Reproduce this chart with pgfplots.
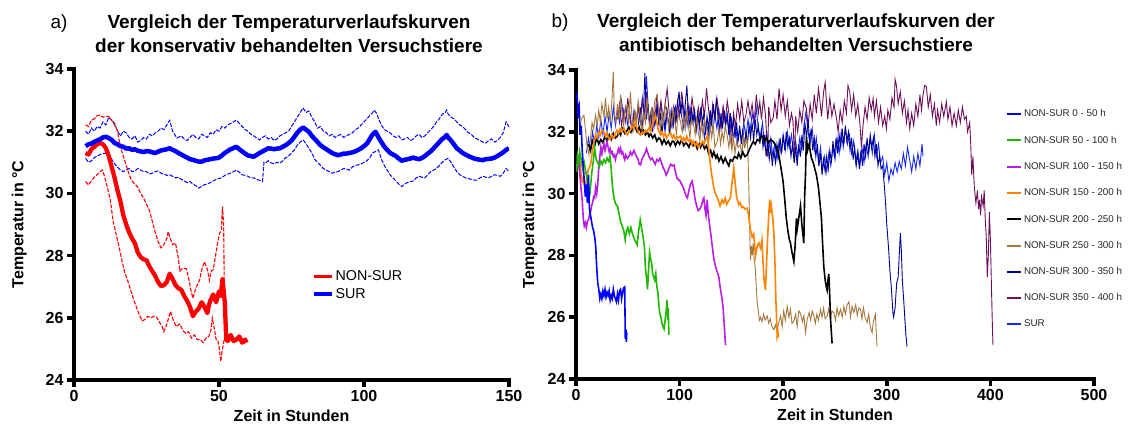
\documentclass[border=0pt]{standalone}
\usepackage{fontspec}
\setmainfont{Liberation Sans}
\usepackage{pgfplots}
\pgfplotsset{compat=1.18}
\definecolor{cblue}{RGB}{0,0,255}
\definecolor{cred}{RGB}{255,0,0}
\definecolor{cgreen}{RGB}{30,185,0}
\definecolor{cpurple}{RGB}{185,30,230}
\definecolor{corange}{RGB}{255,130,0}
\definecolor{cbrown}{RGB}{165,120,60}
\definecolor{cnavy}{RGB}{0,0,140}
\definecolor{cmaroon}{RGB}{110,15,90}
\definecolor{csur}{RGB}{20,40,255}
\pgfplotsset{
  myaxis/.style={
    scale only axis,
    axis lines=left,
    axis line style={-, line width=3.5pt, line cap=rect},
    tick style={line width=3.5pt, black},
    major tick length=7pt,
    tick align=outside,
    ymin=24, ymax=34, ytick={24,26,...,34},
    /pgf/number format/assume math mode=true,
    ticklabel style={font=\fontsize{16}{18}\selectfont\bfseries},
    label style={font=\fontsize{16}{18}\selectfont\bfseries},
    xlabel={Zeit in Stunden},
    ylabel={Temperatur in °C},
    xlabel style={at={(axis description cs:0.5,-0.085)}, anchor=north},
  }
}
\begin{document}
\begin{tikzpicture}
\useasboundingbox (0,0) rectangle (1128pt,425pt);
% ---------- titles ----------
\node[anchor=base west, font=\fontsize{19}{22}\selectfont] at (47pt,396pt) {a)};
\node[anchor=base, font=\fontsize{19}{22}\selectfont\bfseries] at (289pt,396pt) {Vergleich der Temperaturverlaufskurven};
\node[anchor=base, font=\fontsize{19}{22}\selectfont\bfseries] at (289pt,372pt) {der konservativ behandelten Versuchstiere};
\node[anchor=base west, font=\fontsize{19}{22}\selectfont] at (548pt,397pt) {b)};
\node[anchor=base, font=\fontsize{19}{22}\selectfont\bfseries] at (796pt,397pt) {Vergleich der Temperaturverlaufskurven der};
\node[anchor=base, font=\fontsize{19}{22}\selectfont\bfseries] at (796pt,373pt) {antibiotisch behandelten Versuchstiere};
% ---------- left axis ----------
\begin{axis}[myaxis,
  at={(74pt,45pt)}, anchor=south west,
  width=435pt, height=311pt,
  xmin=0, xmax=150, xtick={0,50,100,150},
  ylabel style={at={(axis description cs:-0.126,0.5)}, anchor=center},
  legend style={at={(axis description cs:0.54,0.365)}, anchor=north west, draw=none, fill=none,
    font=\fontsize{14.3}{16}\selectfont, row sep=2pt},
  legend cell align=left,
  legend image code/.code={\draw[#1, line width=3.5pt] (0pt,0pt) -- (18pt,0pt);},
]
% SUR upper SD
\addplot[cblue, line width=1pt, dash pattern=on 4pt off 1.5pt, forget plot] coordinates {
(4,32.0)(5,31.9)(6,32.1)(7,32.0)(8,32.15)(9,32.1)(10,32.3)(11,32.2)(12,32.45)(13,32.35)(14,32.25)(15,32.0)(16,31.85)(17,32.0)(18,31.95)(19,31.8)(20,31.75)(21,31.85)(22,31.65)(23,31.7)(24,31.8)(25,31.75)(26,31.9)(27,31.85)(28,31.95)(29,32.0)(30,32.1)(31,32.05)(32,32.2)(33,32.35)(34,32.0)(35.5,31.78)(37,31.85)(38,31.75)(39,31.7)(40,31.8)(41,31.9)(42,31.8)(43,31.75)(44,31.9)(45,31.85)(46,31.8)(47,31.95)(48,31.9)(49,32.05)(50,32.0)(51,32.15)(52,32.1)(53,32.2)(54,32.25)(55,32.3)(56,32.36)(57,32.25)(58,32.15)(59,32.05)(60,32.0)(61,31.9)(62,31.85)(63,31.78)(64,31.72)(65,31.8)(66,31.85)(67,31.75)(68,31.8)(69,31.7)(70,31.75)(71,31.85)(72,31.9)(73,31.95)(74,32.0)(75,32.15)(76,32.3)(77,32.45)(78,32.6)(79,32.75)(80,32.6)(81,32.65)(82,32.45)(83,32.3)(84,32.1)(85,32.15)(86,32.0)(87,31.95)(88,31.85)(89,31.9)(90,31.8)(91,31.85)(92,31.9)(93,31.8)(94,31.85)(95,31.9)(96,31.95)(97,32.05)(98,32.1)(99,32.2)(100,32.3)(101,32.4)(102,32.5)(103,32.6)(103.5,32.68)(104.5,32.55)(105,32.4)(106,32.2)(107,32.05)(108,32.0)(109,31.95)(110,31.85)(111,31.8)(112,31.85)(113,31.72)(114,31.75)(115,31.8)(116,31.7)(117,31.75)(118,31.85)(119,31.9)(120,31.8)(121,31.85)(122,31.95)(123,32.05)(124,32.15)(125,32.3)(126,32.4)(127,32.55)(128,32.6)(128.5,32.68)(129,32.55)(130,32.45)(131,32.4)(132,32.3)(133,32.2)(134,32.15)(135,32.05)(136,31.95)(137,31.9)(138,31.8)(139,31.75)(140,31.7)(141,31.65)(142,31.62)(143,31.7)(144,31.75)(145,31.65)(146,31.7)(147,31.8)(148,31.95)(149,32.3)(150,32.14)};
% SUR lower SD
\addplot[cblue, line width=1pt, dash pattern=on 4pt off 1.5pt, forget plot] coordinates {
(4,31.13)(5,31.0)(6,31.05)(7,31.15)(8,31.2)(9,31.25)(10,31.28)(11.5,31.3)(12,31.2)(13,31.1)(14,30.95)(15,30.85)(16,30.75)(17,30.7)(18,30.75)(19,30.8)(20,30.7)(21,30.72)(22,30.8)(23,30.75)(24,30.7)(25,30.7)(26,30.62)(27,30.65)(28,30.7)(29,30.72)(30,30.65)(31,30.62)(32,30.58)(33,30.6)(34,30.55)(35,30.5)(36,30.52)(37,30.45)(38,30.4)(39,30.35)(40,30.38)(41,30.3)(42,30.25)(43,30.17)(44,30.22)(45,30.28)(46,30.3)(47,30.35)(48,30.4)(49,30.45)(50,30.48)(51,30.5)(52,30.58)(53,30.62)(54,30.65)(55,30.7)(56,30.75)(57,30.68)(58,30.6)(59,30.58)(60,30.55)(61,30.5)(62,30.5)(63,30.45)(64,30.42)(65,30.38)(65.5,31.0)(66,30.98)(67,31.05)(68,30.98)(69,30.95)(70,31.0)(71,30.97)(72,31.05)(73,31.15)(74,31.2)(75,31.3)(76,31.4)(77,31.55)(78,31.65)(79,31.72)(80,31.6)(81,31.45)(82,31.3)(83,31.1)(84,31.0)(85,30.9)(86,30.8)(87,30.75)(88,30.7)(89,30.65)(90,30.68)(91,30.7)(92,30.75)(93,30.8)(94,30.78)(95,30.75)(96,30.85)(97,30.9)(98,30.92)(99,30.95)(100,31.0)(101,31.05)(102,31.15)(103,31.3)(104,31.35)(105,31.4)(106,31.1)(107,30.9)(108,30.75)(109,30.6)(110,30.5)(111,30.4)(112,30.3)(113,30.22)(114,30.3)(115,30.35)(116,30.38)(117,30.4)(118,30.5)(119,30.55)(120,30.52)(121,30.5)(122,30.6)(123,30.7)(124,30.75)(125,30.8)(126,30.9)(127,31.0)(128,31.08)(129,31.13)(130,31.0)(131,30.85)(132,30.7)(133,30.6)(134,30.55)(135,30.5)(136,30.48)(137,30.45)(138,30.43)(139,30.43)(140,30.5)(141,30.55)(142,30.52)(143,30.5)(144,30.55)(145,30.6)(146,30.58)(147,30.55)(148,30.65)(149,30.8)(150,30.7)};
% NON-SUR upper SD
\addplot[cred, line width=1.1pt, dash pattern=on 4pt off 1.5pt, forget plot] coordinates {
(4,32.2)(5,32.15)(6,32.35)(7,32.4)(8,32.5)(9,32.52)(10,32.45)(11,32.48)(12,32.47)(13,32.35)(14,32.2)(15,32.0)(16,31.5)(17,31.2)(18,30.9)(19,30.6)(20,30.4)(21,30.3)(22,30.2)(23,30.0)(24,29.85)(25,29.65)(26,29.45)(27,29.1)(28,28.75)(29,28.45)(30,28.25)(31,28.35)(32,28.55)(32.5,28.77)(33,28.6)(34,28.35)(35,28.4)(36,27.9)(36.5,27.5)(37.5,27.6)(38.7,27.58)(39.5,27.3)(40.3,26.9)(41,26.63)(42,26.95)(43.3,27.21)(44.2,27.6)(45,27.8)(46,27.55)(46.7,27.2)(47.3,27.5)(48,27.55)(49,28.1)(49.5,28.4)(50.2,28.72)(50.8,28.8)(51.2,29.57)(51.6,29.0)(52,25.3)};
% NON-SUR lower SD
\addplot[cred, line width=1.1pt, dash pattern=on 4pt off 1.5pt, forget plot] coordinates {
(4,30.38)(5,30.27)(6,30.4)(7,30.52)(8,30.6)(9,30.7)(9.8,30.75)(10.5,30.55)(11.5,30.2)(12.5,29.8)(13.5,29.1)(14.5,28.7)(15.5,28.3)(16.5,27.85)(17.5,27.45)(18.5,27.2)(19.5,26.9)(20.5,26.6)(21.5,26.35)(22.5,26.1)(23.5,25.9)(24.5,25.95)(25.5,26.05)(26.5,26.0)(27.5,26.05)(28.5,26.02)(29.5,25.85)(30.5,25.7)(31,25.55)(32,25.8)(33.3,26.2)(34.3,25.9)(35.3,25.72)(36.5,25.8)(37.5,25.6)(38.5,25.5)(39.5,25.55)(40.5,25.35)(41.5,25.45)(42.5,25.3)(43.7,25.29)(44.5,25.2)(45.5,25.35)(46.5,25.4)(47.2,25.6)(47.7,25.99)(48.3,25.7)(49,25.3)(49.5,25.29)(50,25.1)(50.6,24.6)(51.2,25.0)(51.8,25.3)(52.3,25.35)};
% NON-SUR mean
\addplot[cred, line width=4.3pt, line join=round] coordinates {
(4,31.3)(5,31.25)(6,31.42)(7,31.5)(8,31.58)(9,31.62)(10,31.58)(11,31.45)(12,31.2)(13,30.85)(14,30.5)(15,30.1)(16,29.75)(17,29.3)(18,29.0)(19,28.75)(20,28.55)(21,28.4)(22,28.1)(23,27.95)(24,27.88)(25,27.85)(26,27.65)(27,27.5)(28,27.35)(29,27.15)(30,27.02)(31,27.05)(32,27.15)(33,27.42)(34,27.25)(35,27.05)(36,26.95)(37,26.9)(38,26.7)(39,26.55)(40,26.35)(41,26.05)(42,26.2)(43,26.3)(44,26.5)(45,26.35)(46,26.15)(46.5,26.4)(47,26.55)(48,26.75)(49,26.5)(50,26.85)(50.6,26.7)(51.2,27.25)(52,26.5)(52.5,25.3)(53,25.25)(54,25.45)(55,25.25)(56,25.3)(57,25.4)(58,25.2)(59,25.3)(59.5,25.2)};
\addlegendentry{NON-SUR}
% SUR mean
\addplot[cblue, line width=4.5pt, line join=round] coordinates {
(4,31.52)(5,31.58)(6,31.6)(7,31.66)(8,31.7)(9,31.74)(10,31.8)(11,31.82)(12,31.78)(13,31.72)(14,31.62)(15,31.58)(16,31.52)(17,31.5)(18,31.44)(19,31.45)(20,31.4)(21,31.42)(22,31.37)(23,31.35)(24,31.33)(25,31.36)(26,31.35)(27,31.32)(28,31.3)(29,31.34)(30,31.38)(31,31.4)(32,31.42)(33,31.45)(34,31.4)(35,31.36)(36,31.3)(37,31.25)(38,31.2)(39,31.15)(40,31.1)(41,31.08)(42,31.05)(43,31.02)(44,31.02)(45,31.06)(46,31.08)(47,31.1)(48,31.12)(49,31.13)(50,31.15)(51,31.22)(52,31.3)(53,31.36)(54,31.42)(55,31.46)(56,31.5)(57,31.42)(58,31.35)(59,31.28)(60,31.22)(61,31.2)(62,31.18)(63,31.24)(64,31.3)(65,31.35)(66,31.4)(67,31.45)(68,31.44)(69,31.42)(70,31.44)(71,31.45)(72,31.5)(73,31.55)(74,31.62)(75,31.7)(76,31.82)(77,31.95)(78,32.05)(79,32.12)(80,32.05)(81,31.98)(82,31.85)(83,31.75)(84,31.65)(85,31.55)(86,31.48)(87,31.42)(88,31.36)(89,31.3)(90,31.26)(91,31.23)(92,31.25)(93,31.28)(94,31.28)(95,31.3)(96,31.32)(97,31.35)(98,31.4)(99,31.45)(100,31.52)(101,31.6)(102,31.75)(103,31.9)(104,31.98)(105,31.8)(106,31.65)(107,31.5)(108,31.4)(109,31.3)(110,31.25)(111,31.2)(112,31.12)(113,31.05)(114,31.08)(115,31.1)(116,31.12)(117,31.15)(118,31.12)(119,31.1)(120,31.14)(121,31.2)(122,31.28)(123,31.35)(124,31.45)(125,31.55)(126,31.65)(127,31.75)(128,31.82)(128.5,31.88)(129,31.8)(130,31.7)(131,31.58)(132,31.45)(133,31.38)(134,31.3)(135,31.25)(136,31.2)(137,31.16)(138,31.12)(139,31.1)(140,31.08)(141,31.07)(142,31.1)(143,31.11)(144,31.12)(145,31.15)(146,31.2)(147,31.26)(148,31.32)(149,31.4)(150,31.45)};
\addlegendentry{SUR}
\end{axis}
% ---------- right axis ----------
\begin{axis}[myaxis,
  at={(576pt,46pt)}, anchor=south west,
  width=518pt, height=309pt,
  xmin=0, xmax=500, xtick={0,100,...,500},
  ylabel style={at={(axis description cs:-0.089,0.5)}, anchor=center},
  legend style={at={(axis description cs:0.824,0.885)}, anchor=north west, draw=none, fill=none,
    font=\fontsize{9.8}{11}\selectfont, row sep=13.7pt, text=black!85},
  legend cell align=left,
  legend image code/.code={\draw[#1] (0pt,0pt) -- (14pt,0pt);},
]
% SUR
\addplot[csur, line width=0.9pt, forget plot] coordinates {
(10,31.3)(12,31.8)(14,31.4)(16,32.0)(18,31.6)(20,32.2)(22,31.8)(24,32.4)(26,31.9)(28,32.5)(30,32.0)(32,32.6)(34,32.1)(36,32.8)(38,32.2)(40,32.7)(42,32.3)(44,33.0)(46,32.4)(48,32.8)(50,32.2)(52,32.6)(54,32.1)(56,32.7)(58,32.3)(60,32.9)(62,32.4)(64,33.1)(66,32.5)(68,33.8)(70,32.6)(72,32.1)(74,32.7)(76,32.2)(78,32.8)(80,32.3)(82,32.9)(84,32.4)(86,32.0)(88,32.6)(90,32.1)(92,32.7)(94,32.2)(96,32.8)(98,32.4)(100,33.0)(102,32.5)(104,32.1)(106,32.7)(108,32.2)(110,32.8)(112,32.3)(114,32.6)(116,32.0)(118,32.5)(120,31.9)(122,32.4)(124,31.8)(126,32.3)(128,31.9)(130,32.5)(132,32.0)(134,32.6)(136,32.1)(138,32.7)(140,32.2)(142,32.8)(144,32.3)(146,32.6)(148,31.9)(150,32.4)(152,31.8)(154,32.2)(156,31.6)(158,32.1)(160,31.7)(162,32.3)(164,31.8)(166,32.4)(168,32.0)(170,32.6)(172,32.2)(174,32.77)(176,32.1)(178,31.8)(180,32.3)(182,31.6)(184,32.0)(186,31.4)(188,31.8)(190,31.2)(192,31.6)(194,31.1)(196,31.7)(198,31.3)(200,31.9)(202,31.4)(204,32.0)(206,31.5)(208,31.9)(210,31.3)(212,31.7)(214,31.2)(216,31.8)(218,31.4)(220,32.2)(222,32.65)(224,32.0)(226,31.6)(228,32.1)(230,31.4)(232,31.8)(234,31.0)(236,31.5)(238,30.8)(240,31.2)(242,30.7)(244,31.3)(246,30.9)(248,31.5)(250,31.1)(252,31.8)(254,31.3)(256,32.0)(258,31.5)(260,32.1)(262,31.6)(264,31.9)(266,31.3)(268,31.7)(270,31.0)(272,31.4)(274,30.9)(276,31.5)(278,31.0)(280,31.6)(282,31.2)(284,31.8)(286,31.3)(288,31.9)(290,31.2)(292,31.6)(294,31.0)(296,31.2)(298,30.6)(300,31.0)(302,30.4)(304,30.8)(306,30.6)(308,31.0)(310,30.7)(312,31.04)(314,30.8)(316,31.3)(318,30.9)(320,31.5)(322,31.1)(324,30.7)(326,31.2)(328,30.8)(330,31.3)(332,30.9)(334,31.6)(335,31.2)};
% NON-SUR 350-400
\addplot[cmaroon, line width=0.9pt, forget plot] coordinates {
(40,32.4)(42,32.9)(44,32.2)(46,32.7)(48,32.3)(50,33.1)(52,32.5)(54,32.0)(56,32.6)(58,32.2)(60,32.8)(62,32.3)(64,33.0)(66,32.5)(68,33.3)(70,32.6)(72,32.1)(74,32.7)(76,32.3)(78,33.2)(80,32.5)(82,33.0)(84,32.4)(86,32.9)(88,33.4)(90,32.6)(92,32.2)(94,32.8)(96,32.3)(98,33.0)(100,32.5)(102,33.3)(104,32.7)(106,32.2)(108,32.9)(110,32.5)(112,33.1)(114,32.6)(116,32.1)(118,32.8)(120,32.4)(122,33.0)(124,32.5)(126,33.4)(128,32.7)(130,32.2)(132,32.9)(134,32.4)(136,33.1)(138,32.6)(140,32.1)(142,32.8)(144,32.3)(146,33.0)(148,32.5)(150,31.5)(152,32.6)(154,32.2)(156,32.9)(158,32.4)(160,33.0)(162,32.3)(164,32.54)(166,33.0)(168,32.5)(170,32.9)(172,32.3)(174,33.2)(176,32.6)(177.4,32.97)(179,32.4)(181,33.1)(183,32.5)(185,31.2)(186,32.8)(188,32.3)(190.3,32.44)(192,33.0)(194,32.4)(196,33.4)(198,32.7)(199.9,33.19)(202,32.5)(204,33.0)(206,32.2)(208,32.6)(209.5,32.33)(211,31.0)(212,32.5)(214,32.0)(216,32.7)(218,32.3)(220,33.0)(222.4,32.76)(224,32.2)(226,32.9)(228,32.4)(230,33.2)(232,32.6)(234,33.4)(235.2,33.08)(237,32.5)(239,33.3)(240.5,33.6)(241.7,33.0)(243,32.4)(245,33.1)(247,32.5)(249,32.9)(251.4,32.44)(253,32.0)(255,32.7)(257,32.3)(259,33.0)(261,32.6)(262.5,33.5)(264.2,33.3)(266,32.7)(268,33.2)(270,32.5)(272,32.9)(274,32.3)(275.5,31.5)(277.1,32.22)(279,32.8)(281,32.4)(283,33.1)(285,32.7)(286.8,33.08)(288,32.5)(290,33.0)(292,32.3)(294,32.8)(296,32.2)(298,32.5)(299.6,32.1)(301,32.7)(303,32.4)(305,33.1)(307,32.8)(308,33.7)(309.3,33.5)(311,32.9)(313,33.3)(315,32.6)(317,33.0)(319,32.3)(320.5,32.7)(322.1,32.1)(324,32.6)(326,32.2)(328,32.9)(330,32.5)(332,33.2)(333.5,32.7)(335,33.19)(336.5,33.5)(338.2,33.46)(340,32.8)(342,33.2)(344,32.5)(346,32.9)(347.8,32.2)(349,32.7)(351,32.3)(353,32.9)(355,32.5)(357.5,32.97)(359,32.4)(361,32.8)(363,32.2)(365,32.6)(367.1,32.2)(369,32.7)(371,32.3)(373,32.8)(375,32.4)(376.7,32.5)(378,32.0)(380,32.3)(381,31.6)(382,30.6)(383.1,31.2)(384.5,30.2)(386,29.7)(387.5,30.1)(388.5,29.5)(389.5,29.8)(390.5,29.3)(391.5,29.9)(393,29.6)(394,30.1)(395,29.2)(396,28.6)(397,27.3)(398,28.0)(399,29.4)(400,28.5)(401,27.0)(402,25.6)(402.5,25.1)};
% NON-SUR 300-350
\addplot[cnavy, line width=0.9pt, forget plot] coordinates {
(60,32.2)(62,32.8)(63.5,32.0)(65,32.6)(66.5,33.9)(68,32.4)(69.5,32.9)(71,32.2)(72.5,32.7)(74,32.0)(75.5,32.6)(77,32.3)(78.5,32.9)(80,32.2)(81.5,32.6)(83,31.9)(84.5,32.5)(86,32.1)(87.5,32.8)(89,32.3)(90.5,31.9)(92,32.6)(93.5,32.2)(95,32.8)(96.5,32.3)(98,32.9)(99.5,33.3)(101,32.6)(102.5,33.0)(104,32.4)(105.5,32.9)(107,33.5)(108.5,32.6)(110,32.2)(111.5,32.8)(113,32.3)(114.5,32.7)(116,32.1)(117.5,32.6)(119,32.2)(120.5,32.8)(122,32.3)(123.5,32.6)(125,31.9)(126.5,32.5)(128,32.1)(129.5,32.7)(131,32.2)(132.5,32.9)(134,32.4)(135.5,33.1)(137,32.5)(138.5,32.0)(140,32.6)(141.5,32.1)(143,32.7)(144.5,32.2)(146,32.5)(147.5,31.9)(149,32.6)(150.5,32.0)(152,32.4)(153.5,31.8)(155,32.3)(156.5,31.7)(158,32.2)(159.5,31.6)(161,32.1)(162.5,31.5)(164,32.0)(165.5,31.6)(167,32.2)(168.5,31.8)(170,32.3)(171.5,31.7)(173,32.4)(174.5,31.9)(176,32.2)(177.5,31.6)(179,32.1)(180.5,31.5)(182,31.9)(183.5,31.2)(185,31.7)(186.5,31.1)(188,31.5)(189.5,30.9)(191,31.4)(192.5,31.0)(194,31.6)(195.5,31.2)(197,31.8)(198.5,31.3)(200,31.9)(201.5,31.4)(203,32.0)(204.5,31.5)(206,31.8)(207.5,31.2)(209,31.6)(210.5,31.0)(212,31.5)(213.5,30.9)(215,31.6)(216.5,31.2)(218,31.9)(219.5,31.4)(221,32.3)(222.5,31.8)(224,32.4)(225.5,31.7)(227,32.1)(228.5,31.4)(230,31.8)(231.5,31.2)(233,31.6)(234.5,30.9)(236,31.3)(237.5,30.6)(239,31.1)(240.5,30.7)(242,31.2)(243.5,30.8)(245,31.4)(246.5,31.0)(248,31.7)(249.5,31.2)(251,31.8)(252.5,31.3)(254,31.9)(255.5,31.5)(257,32.1)(258.5,31.6)(260,32.2)(261.5,31.7)(263,32.0)(264.5,31.4)(266,31.8)(267.5,31.1)(269,31.5)(270.5,30.9)(272,31.3)(273.5,30.8)(275,31.4)(276.5,30.9)(278,31.6)(279.5,31.2)(281,31.8)(282.5,31.3)(284,31.9)(285.5,31.5)(287,31.8)(288.5,31.2)(290,31.6)(291.5,30.9)(293,31.2)(294.5,30.8)(296,30.9)(297.5,30.3)(298.6,29.8)(300,29.0)(301.8,28.18)(303,27.5)(304.5,26.9)(306,26.1)(306.6,26.0)(308,26.3)(309.5,27.1)(311,27.3)(312,28.0)(313.1,28.72)(314,28.2)(315,27.2)(316.3,26.56)(317.5,25.9)(318.5,25.4)(319.5,25.05)};
% NON-SUR 250-300
\addplot[cbrown, line width=0.9pt, forget plot] coordinates {
(3,31.9)(5,32.4)(7.7,32.54)(9,32.1)(10.5,31.6)(12.5,31.25)(14,31.8)(15.5,32.3)(17,32.1)(18.9,32.54)(20.5,32.2)(22,32.7)(23.5,32.3)(25,32.9)(27,32.5)(28.5,33.1)(30,32.4)(31.5,32.8)(33,32.3)(34.5,32.9)(36,33.95)(37,32.6)(38.5,32.3)(40,32.9)(41.5,32.4)(43,33.2)(44.5,32.6)(46,32.2)(47.5,32.8)(49.5,32.87)(51,32.3)(52.5,33.3)(54,32.5)(55.5,32.0)(57,32.7)(58.5,32.3)(60,33.0)(62.3,32.44)(64,31.9)(65.5,32.6)(67,32.3)(68.5,33.1)(70,32.5)(71.5,32.1)(73,32.8)(74.5,32.4)(76,33.0)(78.5,33.19)(80,32.5)(81.5,32.0)(83,32.7)(84.5,32.3)(86,32.9)(88,32.54)(89.5,32.1)(91,32.6)(92.5,32.2)(94,32.8)(95.5,32.3)(97,31.9)(98.5,32.6)(100.9,32.33)(102.5,32.0)(104,32.5)(105.5,32.1)(107,32.7)(108.5,32.2)(110,31.8)(111.5,32.4)(113.7,32.2)(115,31.9)(116.5,32.5)(118,32.0)(119.5,31.7)(121,32.3)(122.5,31.9)(124,32.4)(126.6,32.0)(128,31.6)(129.5,32.2)(131,31.8)(132.5,32.3)(134,31.5)(136.3,31.68)(138,32.1)(139.5,31.6)(141,32.0)(142.5,31.7)(144,32.2)(145.9,31.9)(147.5,31.5)(149,31.9)(150.5,31.4)(152,31.8)(153.5,31.3)(155,31.7)(156.5,31.5)(158.8,31.58)(160,31.2)(161.5,31.9)(163,31.5)(165.2,31.8)(166,31.3)(167,30.0)(167.8,28.6)(168.4,27.85)(169.3,28.3)(170.2,28.0)(171,28.4)(172,27.9)(173,27.6)(174,27.0)(174.9,26.46)(176,26.2)(177,25.9)(178.1,26.0)(179.5,25.85)(181,26.1)(182.5,25.9)(184.6,26.04)(186,25.8)(187.5,25.95)(189,25.7)(191,25.6)(192.5,25.75)(194,25.55)(195.5,25.8)(197.5,26.04)(199,25.7)(200.5,26.2)(202,25.9)(203.9,26.35)(205.5,26.0)(207,26.25)(208.5,25.8)(210.3,25.88)(212,26.1)(213.5,25.7)(215,26.2)(216.7,26.13)(218.5,25.85)(220,26.05)(221.5,25.5)(223.2,25.93)(225,26.15)(226.5,25.9)(228,26.2)(229.6,26.04)(231,25.8)(232.5,26.1)(234,25.9)(236,26.25)(237.5,26.0)(239,26.3)(240.5,25.95)(242.4,26.04)(244,26.3)(245.5,25.9)(247,26.2)(248.9,26.15)(250.5,25.9)(252,26.3)(253.5,26.05)(255.3,26.25)(257,26.0)(258.5,26.35)(260,26.1)(261.7,26.4)(263.5,26.5)(265,26.0)(266.5,26.35)(268.2,26.15)(270,26.4)(271.5,26.05)(273,26.3)(274.6,26.25)(276,25.95)(277.5,26.3)(279,26.0)(281,25.83)(282.5,26.1)(284,25.7)(285.8,25.5)(287,25.85)(289,26.1)(289.8,25.5)(290.6,25.05)};
% NON-SUR 200-250
\addplot[black, line width=1.6pt, forget plot] coordinates {
(12,31.6)(14,31.4)(16,31.7)(18,31.55)(20,31.8)(22,31.6)(24,31.75)(26,31.65)(28,31.85)(30,31.7)(32,31.9)(34,31.75)(36,31.95)(38,31.8)(39.9,31.86)(41.5,32.0)(43,31.9)(45,32.1)(47,31.95)(49.5,32.05)(51,32.15)(53,32.0)(55,32.2)(57.5,32.12)(59,32.0)(61,32.15)(63,31.95)(65,32.05)(67,31.9)(68.8,32.0)(70.5,31.85)(72,31.95)(74,31.8)(76,31.9)(78,31.7)(80,31.8)(81.6,31.75)(83,31.6)(85,31.75)(87,31.6)(89,31.7)(91,31.55)(93,31.7)(94.5,31.68)(96,31.55)(98,31.7)(100,31.6)(102,31.75)(104,31.55)(106,31.65)(107.3,31.6)(109,31.5)(111,31.7)(113,31.55)(115,31.65)(117,31.45)(119,31.6)(120.2,31.5)(122,31.65)(124,31.45)(126,31.55)(128,31.3)(129.9,31.4)(131.5,31.2)(133,31.35)(135,31.15)(136.3,31.25)(138,31.05)(140,31.2)(142,31.0)(144,31.15)(145.9,31.0)(147.5,30.9)(149,31.1)(151,31.05)(153,31.2)(155.6,31.14)(157,31.3)(159,31.15)(161,31.35)(163,31.2)(165.2,31.25)(167,31.4)(169,31.55)(171,31.68)(173,31.6)(175,31.75)(177,31.7)(179,31.85)(180.6,31.86)(182,31.7)(184,31.8)(186,31.65)(188,31.75)(190.3,31.68)(192,31.6)(193.5,31.5)(195.1,31.36)(196.5,31.1)(198,30.8)(199.9,30.39)(201.5,29.8)(203,29.2)(204.5,28.8)(206,28.5)(207,28.4)(208.5,28.1)(210.3,27.8)(211.5,28.3)(212.8,29.2)(213.5,28.85)(215,29.2)(216.7,29.6)(218,29.0)(219.9,28.4)(220.7,29.9)(221.5,30.6)(222.4,31.84)(223.5,31.4)(225,31.6)(227.2,31.15)(229,31.0)(230.5,30.8)(232.1,30.6)(234,30.2)(235.5,29.7)(236.9,29.2)(238,28.4)(239.2,27.63)(240.5,27.2)(241.5,27.0)(242.4,26.88)(243.2,27.2)(244,27.4)(244.8,26.8)(245.6,26.0)(246.5,25.5)(247.2,25.15)};
% NON-SUR 150-200
\addplot[corange, line width=1.6pt, forget plot] coordinates {
(3,31.25)(4,30.9)(5,30.6)(6,30.4)(7,30.5)(8,30.3)(9.3,30.28)(10.5,30.5)(12,30.8)(14.1,30.93)(15.5,31.3)(17,31.6)(18.9,31.9)(20.5,31.8)(22,32.0)(23.5,31.9)(25,32.05)(27,32.0)(28.5,31.85)(30,31.95)(31.5,31.8)(33,31.75)(34.5,31.9)(36.6,31.8)(38,31.95)(39.5,32.05)(41,31.95)(42.5,32.1)(44,32.0)(46.3,32.12)(48,31.95)(49.5,31.9)(51,32.0)(52.7,32.05)(54,32.2)(55.5,32.1)(57.5,32.33)(59,32.1)(60.5,31.95)(62.3,31.9)(64,32.0)(65.5,31.95)(67,32.05)(68.5,32.0)(70.4,32.12)(72,32.0)(73.5,32.2)(75,32.35)(76.8,32.54)(78,32.3)(79.5,32.05)(81.6,31.9)(83,32.0)(84.5,31.85)(86,31.95)(87.5,31.8)(89,31.9)(91.3,31.96)(93,31.8)(94.5,31.9)(96,31.75)(97.5,31.85)(99,31.8)(100.9,31.86)(102.5,31.7)(104,31.8)(105.5,31.7)(107,31.85)(108.5,31.7)(110.6,31.75)(112,31.6)(113.5,31.7)(115,31.55)(116.5,31.65)(118,31.5)(120.2,31.58)(122,31.7)(123.5,31.6)(125,31.75)(126.6,31.86)(128,31.5)(129.5,31.0)(131,30.6)(133,30.18)(134.5,30.0)(136,29.9)(137.5,29.75)(139,29.6)(141,29.8)(142.5,29.7)(144,29.85)(145.5,29.65)(147,29.75)(149.1,29.86)(150.5,30.3)(152.3,30.83)(153.5,30.4)(155,29.9)(157.1,29.64)(158.5,29.7)(160,29.55)(161.4,29.58)(163,29.5)(165.2,29.53)(166.5,29.3)(168.4,28.82)(170,28.6)(171.5,28.7)(173.3,28.0)(175,28.3)(176.5,28.4)(178.1,28.24)(179.5,28.5)(180.5,27.8)(181.5,27.2)(182.9,26.88)(184,27.8)(185,28.6)(186,29.3)(187,29.8)(187.7,29.37)(188.5,29.6)(190,29.2)(191,28.72)(192,27.8)(193,26.5)(194.2,25.37)(195,25.5)(195.5,25.35)};
% NON-SUR 100-150
\addplot[cpurple, line width=1.6pt, forget plot] coordinates {
(1,31.25)(2,30.9)(3,31.1)(4,30.5)(5,30.1)(6,29.8)(7,29.2)(8,28.95)(9,29.05)(10,28.9)(11,29.1)(12,29.15)(13,29.3)(14,29.4)(15,29.6)(16,29.7)(17,29.9)(18,29.86)(19,30.2)(20,30.0)(21,30.3)(22,30.9)(23,31.2)(24,31.5)(25,31.3)(26,31.47)(27,31.6)(28,31.4)(29,31.55)(30,31.68)(31,31.5)(32,31.35)(33,31.45)(34,31.3)(35,31.35)(36,31.2)(37,31.25)(38,31.1)(39,31.25)(40,31.3)(41,31.45)(42,31.35)(43,31.47)(44,31.3)(45,31.35)(46,31.2)(47,31.1)(48,31.25)(49.5,31.14)(51,31.2)(52.5,31.35)(54,31.25)(55.9,31.4)(57,31.3)(58.5,31.2)(60,31.1)(61,30.95)(62.3,30.93)(63.5,31.1)(65,31.2)(66.5,31.3)(68,31.45)(69,31.35)(70.5,31.2)(72,31.1)(73.5,31.15)(75,31.04)(76.5,30.95)(78,31.1)(79.5,31.05)(81,31.14)(82.5,31.0)(84,30.85)(85.5,30.75)(87,30.6)(88.5,30.7)(90,30.85)(91.5,30.95)(93,30.9)(94.5,30.93)(96,30.7)(97.5,30.5)(99,30.45)(100.5,30.4)(102,30.3)(103.5,30.2)(105,30.05)(106.5,29.9)(107.5,29.86)(109,30.1)(110.5,30.3)(112,30.4)(113.5,30.15)(115,29.8)(116.5,29.6)(118,29.45)(119.5,29.5)(121,29.6)(122.5,29.8)(123.4,29.86)(124.5,29.5)(125.5,29.3)(126.6,29.8)(127.5,29.4)(128.5,29.1)(130,28.72)(131.5,28.3)(133,27.9)(134.7,27.63)(136,27.5)(137.9,27.3)(139,27.0)(140,26.8)(141.1,26.56)(142,26.3)(143,25.8)(144.3,25.1)};
% NON-SUR 50-100
\addplot[cgreen, line width=1.6pt, forget plot] coordinates {
(0.5,30.7)(1.5,31.2)(2.5,31.0)(3.5,31.36)(5,31.1)(6.5,30.8)(8,31.0)(9.5,30.7)(11,30.4)(12.5,30.1)(13.5,30.02)(15,30.6)(16.5,31.0)(18,31.47)(19.5,31.1)(21,31.0)(22.5,30.87)(24,31.05)(25.5,30.95)(27,31.1)(28.5,31.0)(30,31.15)(31.5,31.05)(32.8,31.2)(34,30.8)(35,30.3)(36,30.0)(37,29.8)(38.5,29.65)(40,29.6)(41.5,29.35)(43,29.1)(44.5,28.95)(46,28.82)(47.5,28.5)(48.5,28.75)(50,28.9)(51.5,28.7)(53,28.9)(54.5,28.7)(56,28.55)(57.5,28.45)(59,28.34)(60.5,28.8)(62,29.15)(63,28.95)(64.5,28.65)(66,28.3)(67,27.6)(68,27.3)(69,26.9)(70,27.5)(71,28.1)(72,27.9)(73,27.75)(74,27.4)(75,27.3)(76,27.2)(77,27.4)(78,27.0)(79,26.8)(80,26.4)(81,26.1)(82,26.0)(83,25.8)(84,25.7)(85,25.62)(86,25.9)(87,26.2)(88,26.56)(88.5,25.9)(89,26.3)(89.7,25.42)};
% NON-SUR 0-50
\addplot[cblue, line width=1.6pt, forget plot] coordinates {
(0,33.1)(1,33.2)(2,32.6)(3,32.8)(4,31.9)(5,32.2)(6,31.4)(7,30.9)(8,30.4)(9,29.9)(10,30.3)(11,29.7)(12,30.6)(13,29.5)(14,29.3)(15,29.1)(16,28.9)(17,28.8)(18,28.6)(19,28.3)(20,27.6)(21,27.1)(22,26.9)(23,26.6)(24,26.75)(25,26.6)(26,26.85)(27,26.7)(28,26.9)(29,26.65)(30,26.8)(31,26.7)(32,26.85)(33,26.55)(34,26.7)(35,26.6)(36,26.9)(37,26.7)(38,26.6)(39,26.5)(40,26.75)(41,26.55)(42,26.85)(43,26.9)(44,26.6)(45,26.8)(46,26.95)(47,26.98)(47.6,25.3)(48.2,25.6)(48.6,25.2)(49,25.5)};
% legend (in the reference's order)
\addlegendimage{cblue, line width=2pt}\addlegendentry{NON-SUR 0 - 50 h}
\addlegendimage{cgreen, line width=2pt}\addlegendentry{NON-SUR 50 - 100 h}
\addlegendimage{cpurple, line width=2pt}\addlegendentry{NON-SUR 100 - 150 h}
\addlegendimage{corange, line width=2pt}\addlegendentry{NON-SUR 150 - 200 h}
\addlegendimage{black, line width=2pt}\addlegendentry{NON-SUR 200 - 250 h}
\addlegendimage{cbrown, line width=2pt}\addlegendentry{NON-SUR 250 - 300 h}
\addlegendimage{cnavy, line width=2pt}\addlegendentry{NON-SUR 300 - 350 h}
\addlegendimage{cmaroon, line width=2pt}\addlegendentry{NON-SUR 350 - 400 h}
\addlegendimage{csur, line width=2pt}\addlegendentry{SUR}
\end{axis}
\end{tikzpicture}
\end{document}
